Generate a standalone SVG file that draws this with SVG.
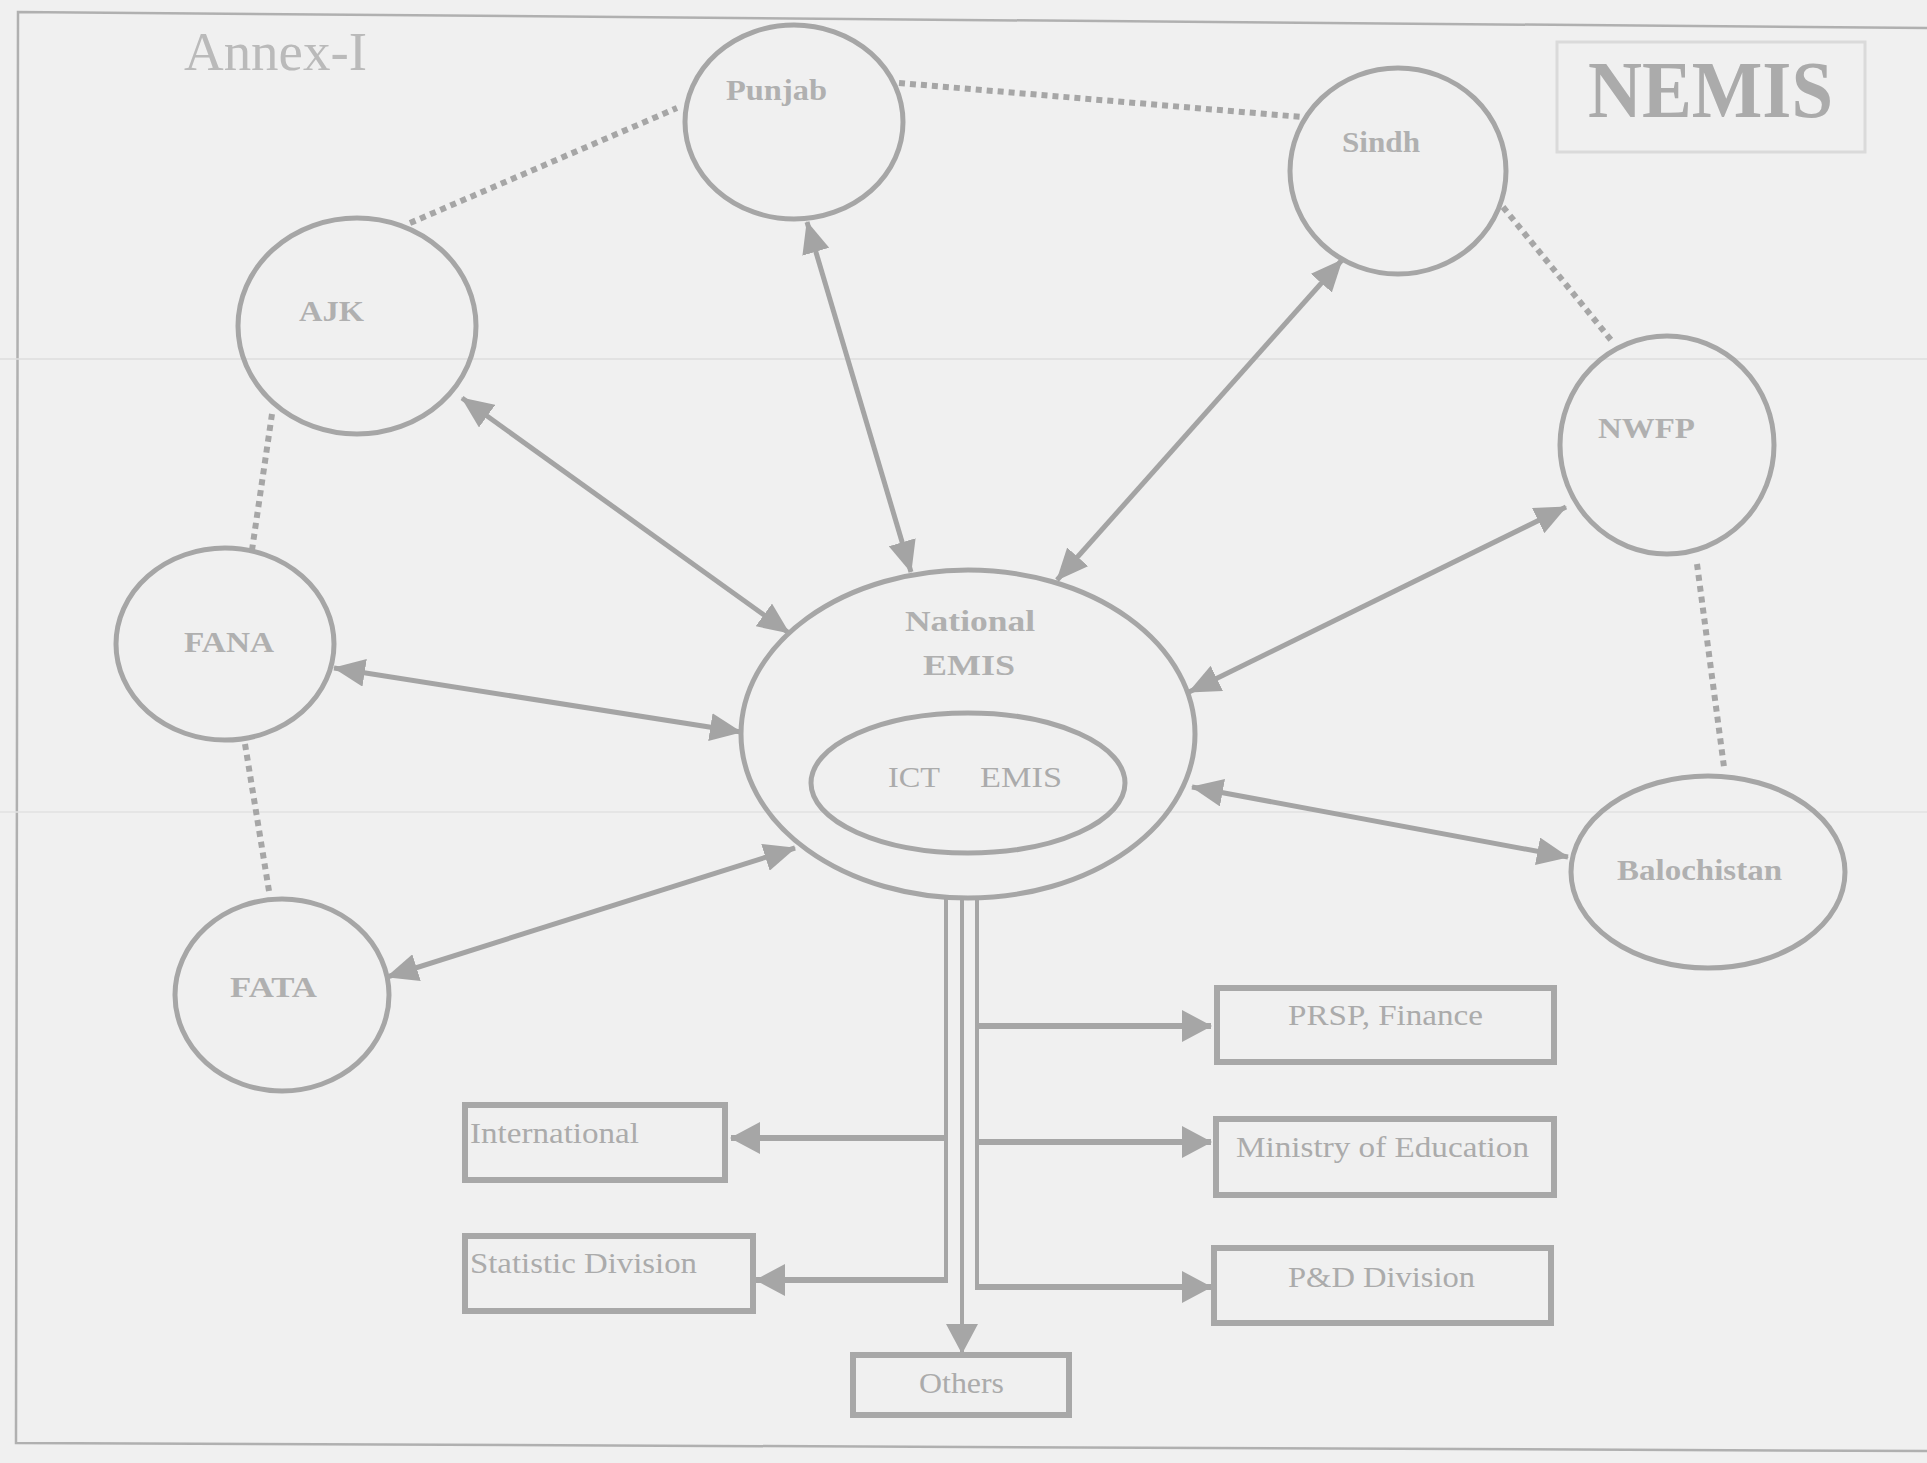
<svg xmlns="http://www.w3.org/2000/svg" width="1927" height="1463" viewBox="0 0 1927 1463">
  <defs>
    <style>
      .node { fill: none; stroke: #a6a6a6; stroke-width: 5; }
      .box { fill: none; stroke: #a8a8a8; stroke-width: 6; }
      .lbl { font-family: "Liberation Serif", "Times New Roman", serif; fill: #b0b0b0; font-weight: bold; font-size: 30px; }
      .btxt { font-family: "Liberation Serif", "Times New Roman", serif; fill: #ababab; font-size: 30px; }
      .ttl { font-family: "Liberation Serif", "Times New Roman", serif; }
      .arrow { fill: none; stroke: #a4a4a4; stroke-width: 5; marker-start: url(#ah); marker-end: url(#ah); }
      .dots { fill: none; stroke: #a6a6a6; stroke-width: 6; stroke-dasharray: 6 5; }
      .trunk { fill: none; stroke: #a6a6a6; stroke-width: 4; }
      .branch { fill: none; stroke: #a6a6a6; stroke-width: 6; marker-end: url(#bh); }
    </style>
    <marker id="ah" markerUnits="userSpaceOnUse" viewBox="0 0 32 28" markerWidth="32" markerHeight="28" refX="31" refY="14" orient="auto-start-reverse">
      <path d="M0,0 L32,14 L0,28 Z" fill="#a4a4a4"/>
    </marker>
    <marker id="bh" markerUnits="userSpaceOnUse" viewBox="0 0 30 32" markerWidth="30" markerHeight="32" refX="29" refY="16" orient="auto">
      <path d="M0,0 L30,16 L0,32 Z" fill="#a6a6a6"/>
    </marker>
  </defs>

  <rect x="0" y="0" width="1927" height="1463" fill="#f0f0f0"/>
  <!-- page frame -->
  <path d="M1927,28 L18,12 L16,1443 L1927,1451" fill="none" stroke="#b0b0b0" stroke-width="2.5"/>
  <!-- faint scan lines -->
  <line x1="0" y1="359" x2="1927" y2="359" stroke="#dedede" stroke-width="1.5"/>
  <line x1="0" y1="812" x2="1927" y2="812" stroke="#e2e2e2" stroke-width="1.5"/>

  <g id="title">
    <text class="ttl" x="184" y="70" font-size="54" fill="#bababa" textLength="183" lengthAdjust="spacingAndGlyphs">Annex-I</text>
  </g>
  <g id="nemis">
    <rect x="1557" y="42" width="308" height="110" fill="none" stroke="#dadada" stroke-width="3"/>
    <text class="ttl" x="1588" y="117" font-size="80" font-weight="bold" fill="#ababab" textLength="245" lengthAdjust="spacingAndGlyphs">NEMIS</text>
  </g>

  <g id="connectors">
    <!-- dotted links between provinces -->
    <line class="dots" x1="410" y1="223" x2="677" y2="108"/>
    <line class="dots" x1="899" y1="83" x2="1302" y2="117"/>
    <line class="dots" x1="1503" y1="207" x2="1611" y2="340"/>
    <line class="dots" x1="1697" y1="564" x2="1724" y2="767"/>
    <line class="dots" x1="272" y1="414" x2="252" y2="550"/>
    <line class="dots" x1="245" y1="744" x2="269" y2="891"/>
    <!-- bi-directional arrows -->
    <line class="arrow" x1="462" y1="398" x2="789" y2="633"/>
    <line class="arrow" x1="807" y1="222" x2="911" y2="572"/>
    <line class="arrow" x1="1342" y1="260" x2="1057" y2="580"/>
    <line class="arrow" x1="1566" y1="507" x2="1189" y2="692"/>
    <line class="arrow" x1="334" y1="668" x2="741" y2="732"/>
    <line class="arrow" x1="387" y1="977" x2="795" y2="848"/>
    <line class="arrow" x1="1568" y1="857" x2="1192" y2="787"/>
    <!-- trunk lines from National EMIS -->
    <path class="trunk" d="M946,896 V1280 H760"/>
    <path class="trunk" d="M962,897 V1330"/>
    <path class="trunk" d="M977,896 V1287 H1190"/>
    <path class="branch" d="M946,1138 H731"/>
    <path class="branch" d="M948,1280 H756"/>
    <path class="branch" d="M977,1026 H1211"/>
    <path class="branch" d="M977,1142 H1211"/>
    <path class="branch" d="M975,1287 H1211"/>
    <path d="M962,1320 V1353" fill="none" stroke="#a6a6a6" stroke-width="4" marker-end="url(#bh)"/>
  </g>

  <g id="node-punjab">
    <ellipse class="node" cx="794" cy="122" rx="109" ry="97"/>
    <text class="lbl" x="726" y="100" fill="#b8b8b8" textLength="101" lengthAdjust="spacingAndGlyphs">Punjab</text>
  </g>
  <g id="node-sindh">
    <ellipse class="node" cx="1398" cy="171" rx="108" ry="103"/>
    <text class="lbl" x="1342" y="152" fill="#b8b8b8" textLength="78" lengthAdjust="spacingAndGlyphs">Sindh</text>
  </g>
  <g id="node-ajk">
    <ellipse class="node" cx="357" cy="326" rx="119" ry="108"/>
    <text class="lbl" x="299" y="321" textLength="65" lengthAdjust="spacingAndGlyphs">AJK</text>
  </g>
  <g id="node-nwfp">
    <ellipse class="node" cx="1667" cy="445" rx="107" ry="109"/>
    <text class="lbl" x="1598" y="438" textLength="97" lengthAdjust="spacingAndGlyphs">NWFP</text>
  </g>
  <g id="node-fana">
    <ellipse class="node" cx="225" cy="644" rx="109" ry="96"/>
    <text class="lbl" x="184" y="652" textLength="90" lengthAdjust="spacingAndGlyphs">FANA</text>
  </g>
  <g id="node-fata">
    <ellipse class="node" cx="282" cy="995" rx="107" ry="96"/>
    <text class="lbl" x="230" y="997" textLength="87" lengthAdjust="spacingAndGlyphs">FATA</text>
  </g>
  <g id="node-balochistan">
    <ellipse class="node" cx="1708" cy="872" rx="137" ry="96"/>
    <text class="lbl" x="1617" y="880" textLength="165" lengthAdjust="spacingAndGlyphs">Balochistan</text>
  </g>
  <g id="node-national-emis">
    <ellipse class="node" cx="968" cy="734" rx="227" ry="164"/>
    <text class="lbl" x="905" y="631" font-size="34" fill="#a8a8a8" textLength="130" lengthAdjust="spacingAndGlyphs">National</text>
    <text class="lbl" x="923" y="675" font-size="34" fill="#a8a8a8" textLength="92" lengthAdjust="spacingAndGlyphs">EMIS</text>
  </g>
  <g id="node-ict-emis">
    <ellipse class="node" cx="968" cy="783" rx="157" ry="70"/>
    <text class="btxt" x="888" y="787" font-size="31" textLength="52" lengthAdjust="spacingAndGlyphs">ICT</text>
    <text class="btxt" x="980" y="787" font-size="31" textLength="82" lengthAdjust="spacingAndGlyphs">EMIS</text>
  </g>

  <g id="box-prsp">
    <rect class="box" x="1217" y="988" width="337" height="74"/>
    <text class="btxt" x="1288" y="1025" textLength="195" lengthAdjust="spacingAndGlyphs">PRSP, Finance</text>
  </g>
  <g id="box-ministry">
    <rect class="box" x="1216" y="1119" width="338" height="76"/>
    <text class="btxt" x="1236" y="1157" textLength="293" lengthAdjust="spacingAndGlyphs">Ministry of Education</text>
  </g>
  <g id="box-pd">
    <rect class="box" x="1214" y="1248" width="337" height="75"/>
    <text class="btxt" x="1288" y="1287" textLength="187" lengthAdjust="spacingAndGlyphs">P&amp;D Division</text>
  </g>
  <g id="box-international">
    <rect class="box" x="465" y="1105" width="260" height="75"/>
    <text class="btxt" x="470" y="1143" textLength="169" lengthAdjust="spacingAndGlyphs">International</text>
  </g>
  <g id="box-statistic">
    <rect class="box" x="465" y="1236" width="288" height="75"/>
    <text class="btxt" x="470" y="1273" textLength="227" lengthAdjust="spacingAndGlyphs">Statistic Division</text>
  </g>
  <g id="box-others">
    <rect class="box" x="853" y="1355" width="216" height="60"/>
    <text class="btxt" x="919" y="1393" textLength="85" lengthAdjust="spacingAndGlyphs">Others</text>
  </g>
</svg>
